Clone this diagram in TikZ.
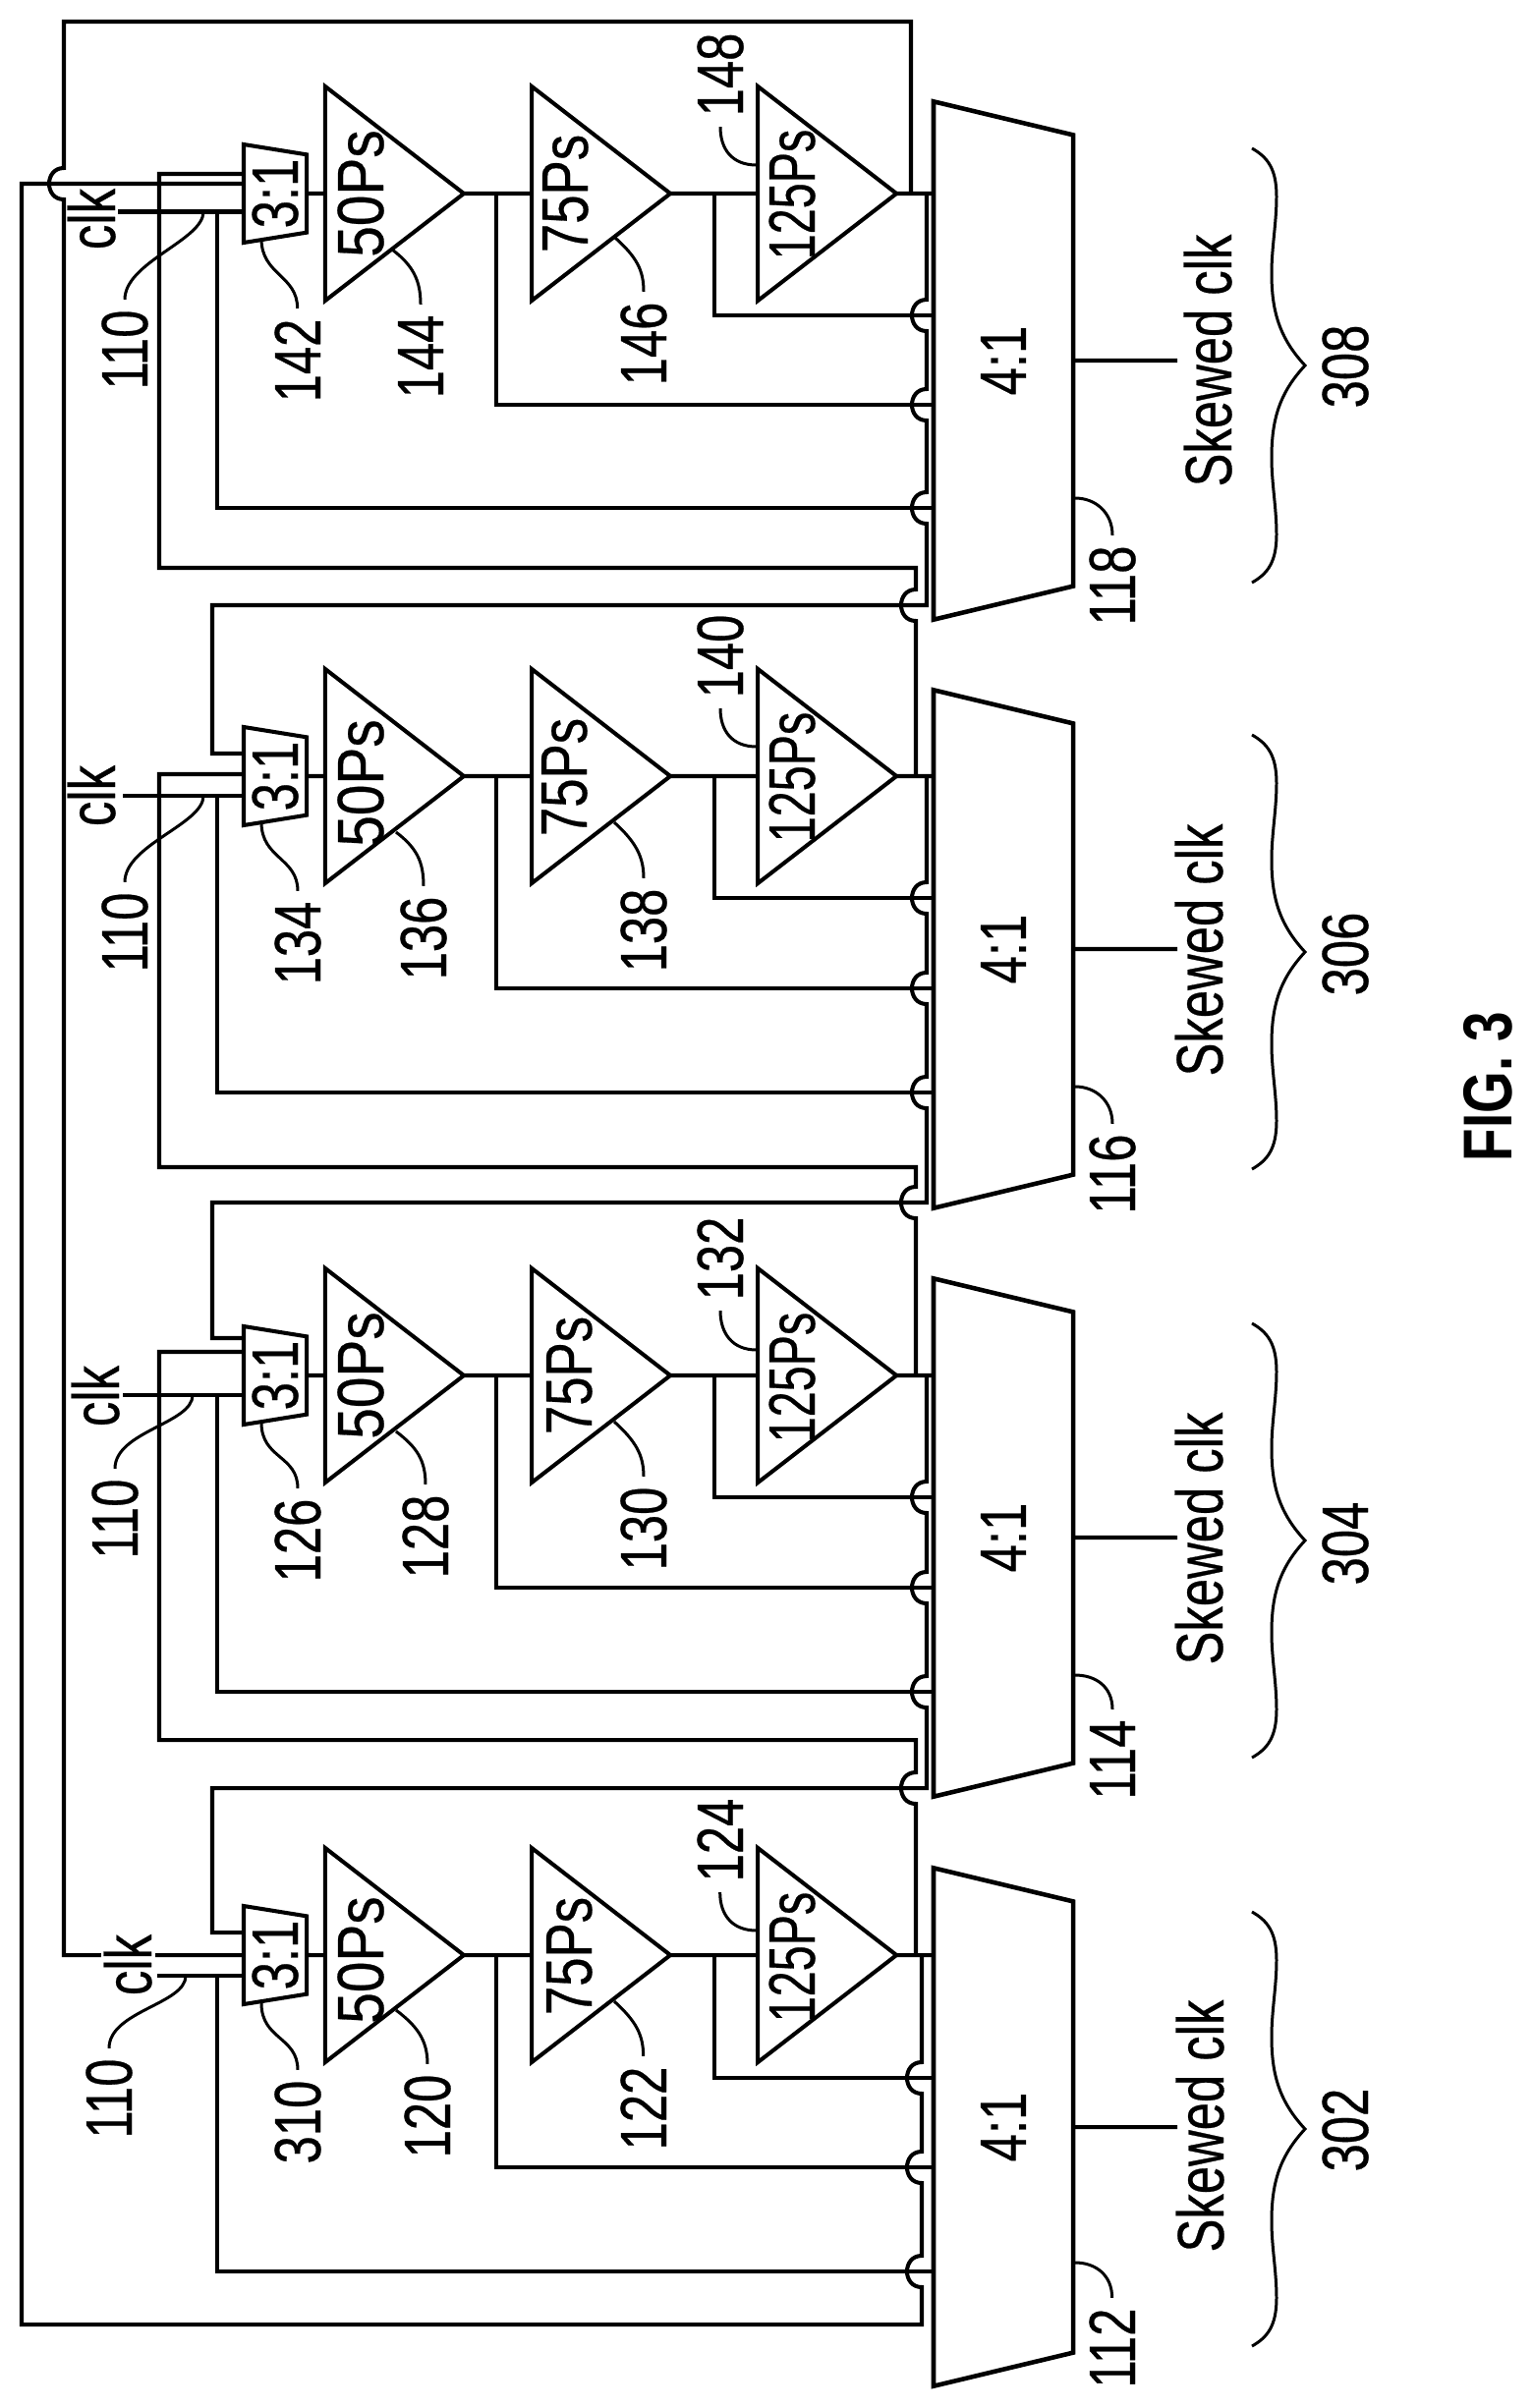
\documentclass[tikz,border=0pt]{standalone}
\usepackage{fontspec}
\usetikzlibrary{positioning,shapes.geometric}
\newfontfamily\lblfont{Liberation Sans}[FakeStretch=0.76,FakeBold=0.4]
\newfontfamily\widefont{Liberation Sans}[FakeStretch=0.85,FakeBold=0.4]
\newfontfamily\midfont{Liberation Sans}[FakeStretch=0.79,FakeBold=0.4]
\newfontfamily\thinfont{Liberation Sans}[FakeStretch=0.70,FakeBold=0.4]
\newfontfamily\figfont{Liberation Sans Bold}[FakeStretch=0.78]
\newcommand{\hop}[1]{-- ([yshift=0.16cm]#1) .. controls +(-0.2cm,0) and +(-0.2cm,0) .. ([yshift=-0.16cm]#1)}
\tikzset{
	delay/.style={isosceles triangle,isosceles triangle stretches,draw,line width=1.15pt,minimum width=2.18cm,minimum height=1.41cm,inner sep=0pt,outer sep=0pt,anchor=east},
	selmux/.style={trapezium,trapezium left angle=101,trapezium right angle=101,trapezium stretches=true,draw,line width=1.15pt,rotate=90,minimum width=1cm,minimum height=0.64cm,inner sep=0pt,outer sep=0pt,font=\lblfont\fontsize{19}{22}\selectfont},
	outmux/.style={trapezium,trapezium left angle=96.5,trapezium right angle=96.5,trapezium stretches=true,draw,line width=1.3pt,rotate=90,minimum width=5.28cm,minimum height=1.42cm,inner sep=0pt,outer sep=0pt,font=\lblfont\fontsize{19}{22}\selectfont},
	lbl/.style={rotate=90,anchor=base,inner sep=0.1cm,font=\lblfont\fontsize{19}{22}\selectfont},
	sig/.style={rotate=90,anchor=base,inner sep=0.03cm,font=\lblfont\fontsize{19}{22}\selectfont},
	tfifty/.style={rotate=90,anchor=base,inner sep=0pt,font=\widefont\fontsize{19}{22}\selectfont},
	tseventy/.style={rotate=90,anchor=base,inner sep=0pt,font=\midfont\fontsize{19}{22}\selectfont},
	tlong/.style={rotate=90,anchor=base,inner sep=0pt,font=\thinfont\fontsize{19}{22}\selectfont},
	wire/.style={line width=1.15pt,line join=miter},
	lead/.style={line width=0.85pt},
	curly/.pic={
		\draw[lead] (-54,-221) .. controls (-38,-212) and (-29,-200) .. (-29,-172)
		.. controls (-29,-145) and (-34,-120) .. (-34,-94)
		.. controls (-34,-55) and (-26,-28) .. (0,0)
		.. controls (-26,28) and (-34,55) .. (-34,94)
		.. controls (-34,120) and (-29,145) .. (-29,172)
		.. controls (-29,200) and (-38,212) .. (-54,221);
	}
}
\begin{document}
\begin{tikzpicture}[x=0.01cm,y=-0.01cm]
		\useasboundingbox (0,0) rectangle (1559,2451);
		% 308
		\node[delay] (d1a) at (472,197) {};
		\node[delay,right=0.69cm of d1a] (d1b) {};
		\node[delay,right=0.89cm of d1b] (d1c) {};
		\node[selmux] (s1) at (280,197) {3:1};
		\node[outmux] (m1) at (1021,367) {4:1};
		% 306
		\node[delay] (d2a) at (472,790) {};
		\node[delay,right=0.69cm of d2a] (d2b) {};
		\node[delay,right=0.89cm of d2b] (d2c) {};
		\node[selmux] (s2) at (280,790) {3:1};
		\node[outmux] (m2) at (1021,966) {4:1};
		% 304
		\node[delay] (d3a) at (472,1400) {};
		\node[delay,right=0.69cm of d3a] (d3b) {};
		\node[delay,right=0.89cm of d3b] (d3c) {};
		\node[selmux] (s3) at (280,1400) {3:1};
		\node[outmux] (m3) at (1021,1565) {4:1};
		% 302
		\node[delay] (d4a) at (472,1990) {};
		\node[delay,right=0.69cm of d4a] (d4b) {};
		\node[delay,right=0.89cm of d4b] (d4c) {};
		\node[selmux] (s4) at (280,1990) {3:1};
		\node[outmux] (m4) at (1021,2165) {4:1};
		
		% points on the wires
		\coordinate (i1a) at (248,177); \coordinate (i1b) at (248,187); \coordinate (i1c) at (248,215.5);
		\coordinate (i2a) at (248,767); \coordinate (i2b) at (248,788); \coordinate (i2c) at (248,810);
		\coordinate (i3a) at (248,1362); \coordinate (i3b) at (248,1376); \coordinate (i3c) at (248,1420);
		\coordinate (i4a) at (248,1967); \coordinate (i4b) at (248,1990); \coordinate (i4c) at (248,2011);
		\coordinate (ck1) at (120,215.5); \coordinate (ck2) at (125,810);
		\coordinate (ck3) at (125,1420); \coordinate (ck4) at (160,2011);
		\coordinate (t1a) at (505,197); \coordinate (t1b) at (727,197); \coordinate (t1c) at (221,215.5);
		\coordinate (t2a) at (505,790); \coordinate (t2b) at (727,790); \coordinate (t2c) at (221,810);
		\coordinate (t3a) at (505,1400); \coordinate (t3b) at (727,1400); \coordinate (t3c) at (221,1420);
		\coordinate (t4a) at (505,1990); \coordinate (t4b) at (727,1990); \coordinate (t4c) at (221,2011);
		\coordinate (e1a) at (950,412); \coordinate (e1b) at (950,321); \coordinate (e1c) at (950,517);
		\coordinate (e2a) at (950,1006); \coordinate (e2b) at (950,914); \coordinate (e2c) at (950,1112);
		\coordinate (e3a) at (950,1616); \coordinate (e3b) at (950,1524); \coordinate (e3c) at (950,1722);
		\coordinate (e4a) at (950,2206); \coordinate (e4b) at (950,2115); \coordinate (e4c) at (950,2312);
		\coordinate (o1) at (943,197); \coordinate (o2) at (943,790); \coordinate (o3) at (943,1400); \coordinate (o4) at (938,1990);
		\coordinate (f1) at (943,616); \coordinate (f2) at (943,1224); \coordinate (f3) at (943,1820); \coordinate (f4) at (938,2366);
		\coordinate (c1) at (932,578); \coordinate (c2) at (932,1188); \coordinate (c3) at (932,1771);
		\coordinate (o2b) at (932,790); \coordinate (o3b) at (932,1400); \coordinate (o4b) at (932,1990);
		\coordinate (k1) at (162,177); \coordinate (k2) at (162,788); \coordinate (k3) at (162,1376);
		\coordinate (g2) at (216,767); \coordinate (g3) at (216,1362); \coordinate (g4) at (216,1967);
		\coordinate (o1t) at (927,197); \coordinate (a1) at (65,22); \coordinate (k4) at (65,1990); \coordinate (a4) at (22,187);
		\coordinate (w1) at (1198,367); \coordinate (w2) at (1198,966); \coordinate (w3) at (1198,1565); \coordinate (w4) at (1198,2165);
		
		% delay chains and outputs
		\path[draw,wire]
		(s1.south) -- (d1a.west) (d1a.east) -- (d1b.west) (d1b.east) -- (d1c.west) (d1c.east) -- (m1.north |- d1c.east) (m1.south) -- (w1)
		(s2.south) -- (d2a.west) (d2a.east) -- (d2b.west) (d2b.east) -- (d2c.west) (d2c.east) -- (m2.north |- d2c.east) (m2.south) -- (w2)
		(s3.south) -- (d3a.west) (d3a.east) -- (d3b.west) (d3b.east) -- (d3c.west) (d3c.east) -- (m3.north |- d3c.east) (m3.south) -- (w3)
		(s4.south) -- (d4a.west) (d4a.east) -- (d4b.west) (d4b.east) -- (d4c.west) (d4c.east) -- (m4.north |- d4c.east) (m4.south) -- (w4);
		
		% clk and taps
		\path[draw,wire]
		(ck1) -- (i1c) (t1a) |- (e1a) (t1b) |- (e1b) (t1c) |- (e1c)
		(ck2) -- (i2c) (t2a) |- (e2a) (t2b) |- (e2b) (t2c) |- (e2c)
		(ck3) -- (i3c) (t3a) |- (e3a) (t3b) |- (e3b) (t3c) |- (e3c)
		(ck4) -- (i4c) (t4a) |- (e4a) (t4b) |- (e4b) (t4c) |- (e4c);
		
		% feedback between the rows
		\draw[wire] (o1) \hop{e1b -| o1} \hop{e1a -| o1} \hop{e1c -| o1} -- (f1) -| (g2) -- (i2a);
		\draw[wire] (o2) \hop{e2b -| o2} \hop{e2a -| o2} \hop{e2c -| o2} -- (f2) -| (g3) -- (i3a);
		\draw[wire] (o3) \hop{e3b -| o3} \hop{e3a -| o3} \hop{e3c -| o3} -- (f3) -| (g4) -- (i4a);
		\draw[wire] (o4) \hop{e4b -| o4} \hop{e4a -| o4} \hop{e4c -| o4} -- (f4) -| (a4) -- (i1b);
		\draw[wire] (i1a) -- (k1) |- (c1) \hop{f1 -| c1} -- (o2b);
		\draw[wire] (i2b) -- (k2) |- (c2) \hop{f2 -| c2} -- (o3b);
		\draw[wire] (i3b) -- (k3) |- (c3) \hop{f3 -| c3} -- (o4b);
		\draw[wire] (o1t) |- (a1) \hop{i1b -| a1} -- (k4) -- (i4b);
		
		% delay texts
		\node[tfifty] (t50a) at (390,197) {50Ps};
		\node[tseventy] (t75a) at (598,197) {75Ps};
		\node[tlong] (t125a) at (829,198) {125Ps};
		\node[tfifty] (t50b) at (390,797) {50Ps};
		\node[tseventy] (t75b) at (597,791) {75Ps};
		\node[tlong] (t125b) at (829,791) {125Ps};
		\node[tfifty] (t50c) at (390,1400) {50Ps};
		\node[tseventy] (t75c) at (602,1400) {75Ps};
		\node[tlong] (t125c) at (829,1402) {125Ps};
		\node[tfifty] (t50d) at (390,1995) {50Ps};
		\node[tseventy] (t75d) at (602,1991) {75Ps};
		\node[tlong] (t125d) at (829,1992) {125Ps};
		
		% clk
		\node[sig] (clk1) at (117,223) {clk};
		\node[sig] (clk2) at (117,810) {clk};
		\node[sig] (clk3) at (121,1421) {clk};
		\node[sig,fill=white] (clk4) at (154,2000) {clk};
		
		% numerals
		\node[lbl] (n110a) at (150,356) {110};
		\node[lbl] (n142) at (326,367) {142};
		\node[lbl] (n144) at (451,363) {144};
		\node[lbl] (n146) at (678,350) {146};
		\node[lbl] (n148) at (756,76) {148};
		\node[lbl] (n118) at (1155,596) {118};
		\node[lbl] (n110b) at (150,949) {110};
		\node[lbl] (n134) at (326,960) {134};
		\node[lbl] (n136) at (454,955) {136};
		\node[lbl] (n138) at (678,947) {138};
		\node[lbl] (n140) at (756,668) {140};
		\node[lbl] (n116) at (1155,1195) {116};
		\node[lbl] (n110c) at (140,1546) {110};
		\node[lbl] (n126) at (326,1568) {126};
		\node[lbl] (n128) at (456,1564) {128};
		\node[lbl] (n130) at (678,1556) {130};
		\node[lbl] (n132) at (756,1281) {132};
		\node[lbl] (n114) at (1155,1791) {114};
		\node[lbl] (n110d) at (134,2136) {110};
		\node[lbl] (n310) at (326,2160) {310};
		\node[lbl] (n120) at (458,2154) {120};
		\node[lbl] (n122) at (678,2146) {122};
		\node[lbl] (n124) at (756,1873) {124};
		\node[lbl] (n112) at (1155,2390) {112};
		
		% leader ends
		\coordinate (l110a) at (207,215.5); \coordinate (l142) at (266,243); \coordinate (l144) at (399,254);
		\coordinate (l146) at (626,242); \coordinate (l148) at (770,168); \coordinate (l118) at (1094,507);
		\coordinate (l110b) at (207,810); \coordinate (l134) at (266,837); \coordinate (l136) at (403,847);
		\coordinate (l138) at (625,837); \coordinate (l140) at (770,760); \coordinate (l116) at (1094,1106);
		\coordinate (l110c) at (196,1420); \coordinate (l126) at (266,1448); \coordinate (l128) at (403,1457);
		\coordinate (l130) at (625,1447); \coordinate (l132) at (770,1374); \coordinate (l114) at (1094,1705);
		\coordinate (l110d) at (189,2011); \coordinate (l310) at (266,2039); \coordinate (l120) at (403,2046);
		\coordinate (l122) at (625,2037); \coordinate (l124) at (770,1965); \coordinate (l112) at (1094,2303);
		
		\draw[lead] (n110a.east) .. controls +(0,-38) and +(0,29) .. (l110a);
		\draw[lead] (n142.east) .. controls +(0,-34) and +(0,37) .. (l142);
		\draw[lead] (n144.east) .. controls +(0,-25) and +(21,16) .. (l144);
		\draw[lead] (n146.east) .. controls +(0,-22) and +(22,20) .. (l146);
		\draw[lead] (n148.west) .. controls +(0,23) and +(-25,0) .. (l148);
		\draw[lead] (n118.east) .. controls +(0,-23) and +(21,0) .. (l118);
		\draw[lead] (n110b.east) .. controls +(0,-38) and +(0,29) .. (l110b);
		\draw[lead] (n134.east) .. controls +(0,-34) and +(0,37) .. (l134);
		\draw[lead] (n136.east) .. controls +(0,-25) and +(21,16) .. (l136);
		\draw[lead] (n138.east) .. controls +(0,-22) and +(22,20) .. (l138);
		\draw[lead] (n140.west) .. controls +(0,23) and +(-25,0) .. (l140);
		\draw[lead] (n116.east) .. controls +(0,-23) and +(21,0) .. (l116);
		\draw[lead] (n110c.east) .. controls +(0,-38) and +(0,29) .. (l110c);
		\draw[lead] (n126.east) .. controls +(0,-34) and +(0,37) .. (l126);
		\draw[lead] (n128.east) .. controls +(0,-25) and +(21,16) .. (l128);
		\draw[lead] (n130.east) .. controls +(0,-22) and +(22,20) .. (l130);
		\draw[lead] (n132.west) .. controls +(0,23) and +(-25,0) .. (l132);
		\draw[lead] (n114.east) .. controls +(0,-23) and +(21,0) .. (l114);
		\draw[lead] (n110d.east) .. controls +(0,-38) and +(0,29) .. (l110d);
		\draw[lead] (n310.east) .. controls +(0,-34) and +(0,37) .. (l310);
		\draw[lead] (n120.east) .. controls +(0,-25) and +(21,16) .. (l120);
		\draw[lead] (n122.east) .. controls +(0,-22) and +(22,20) .. (l122);
		\draw[lead] (n124.west) .. controls +(0,23) and +(-25,0) .. (l124);
		\draw[lead] (n112.east) .. controls +(0,-23) and +(21,0) .. (l112);
		
		% outputs and groups
		\node[lbl] (sk1) at (1253,367) {Skewed clk};
		\node[lbl] (sk2) at (1244,967) {Skewed clk};
		\node[lbl] (sk3) at (1244,1566) {Skewed clk};
		\node[lbl] (sk4) at (1245,2164) {Skewed clk};
		\pic (br1) at (1328,372) {curly};
		\pic (br2) at (1328,969) {curly};
		\pic (br3) at (1328,1568) {curly};
		\pic (br4) at (1328,2167) {curly};
		\node[lbl] (n308) at (1392,373) {308};
		\node[lbl] (n306) at (1392,971) {306};
		\node[lbl] (n304) at (1392,1571) {304};
		\node[lbl] (n302) at (1392,2168) {302};
		\node[rotate=90,anchor=base,inner sep=0pt,font=\figfont\fontsize{20}{24}\selectfont] (fig) at (1538,1106) {FIG. 3};
\end{tikzpicture}
\end{document}
